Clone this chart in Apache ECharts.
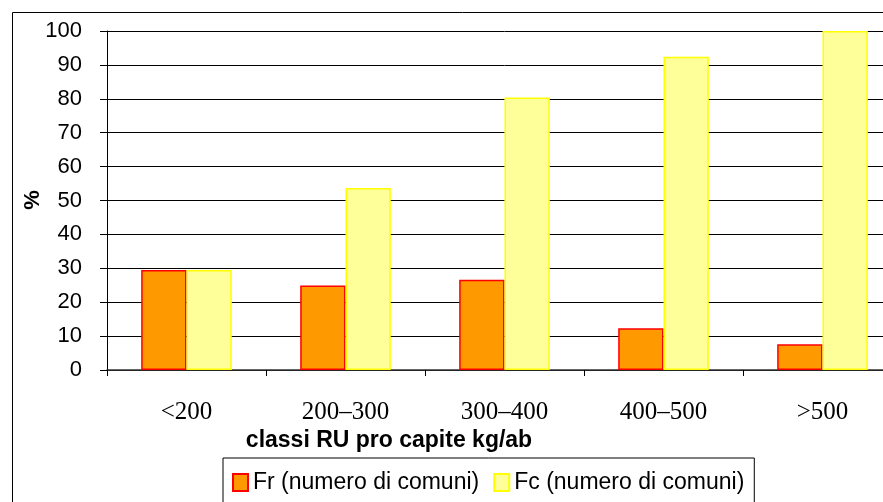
<!DOCTYPE html>
<html>
<head>
<meta charset="utf-8">
<script src="https://cdn.jsdelivr.net/npm/echarts@6/dist/echarts.min.js"></script>
<style>html,body{margin:0;padding:0;background:#fff;overflow:hidden;}#c{width:920px;height:502px;}</style>
</head>
<body>
<div id="c"></div>
<script>
const categories = ['<200', '200\u2013300', '300\u2013400', '400\u2013500', '>500'];
const frValues = [29.5, 24.9, 26.6, 12.3, 7.6];
const fcValues = [29.5, 53.7, 80.4, 92.4, 100];
const seriesNames = ['Fr (numero di comuni)', 'Fc (numero di comuni)'];
const yTicks = { min: 0, max: 100, interval: 10 };
const xAxisTitle = 'classi RU pro capite kg/ab';
const yAxisTitle = '%';

const chart = echarts.init(document.getElementById('c'), null, { renderer: 'canvas' });
chart.setOption({
  animation: false,
  backgroundColor: '#fff',
  graphic: [
    { type: 'rect', shape: { x: 12.5, y: 12.5, width: 900, height: 520 }, style: { fill: 'none', stroke: '#000', lineWidth: 1 }, z: 0 },
    { type: 'text', x: 33, y: 200, rotation: Math.PI / 2,
      style: { text: yAxisTitle, font: 'bold 22px "Liberation Sans", Arial, sans-serif', fill: '#000', textAlign: 'center', textVerticalAlign: 'middle' } },
    { type: 'text', x: 389, y: 441,
      style: { text: xAxisTitle, font: 'bold 23px "Liberation Sans", Arial, sans-serif', fill: '#000', textAlign: 'center', textVerticalAlign: 'middle' } }
  ],
  grid: { left: 107, top: 31, width: 795, height: 339, containLabel: false },
  legend: {
    data: seriesNames,
    left: 223, top: 458,
    orient: 'horizontal',
    icon: 'rect',
    itemWidth: 15, itemHeight: 17,
    itemGap: 14,
    padding: [13, 10, 30, 9],
    borderColor: '#000', borderWidth: 1,
    textStyle: { fontFamily: '"Liberation Sans", Arial, sans-serif', fontSize: 23, color: '#000', padding: [0, 0, 0, 0] },
    selectedMode: false
  },
  xAxis: {
    type: 'category',
    data: categories,
    axisLine: { lineStyle: { color: '#333', width: 1.5 } },
    axisTick: { show: true, length: 6, lineStyle: { color: '#000' } },
    axisLabel: { fontFamily: '"Liberation Serif", "Times New Roman", serif', fontSize: 25, color: '#000', margin: 30 }
  },
  yAxis: {
    type: 'value',
    min: yTicks.min, max: yTicks.max, interval: yTicks.interval,
    axisLine: { show: true, lineStyle: { color: '#000', width: 1 } },
    axisTick: { show: true, length: 7, lineStyle: { color: '#000' } },
    axisLabel: { fontFamily: '"Liberation Sans", Arial, sans-serif', fontSize: 22, color: '#000', margin: 25 },
    splitLine: { show: true, lineStyle: { color: '#000', width: 1 } }
  },
  series: [
    { name: seriesNames[0], type: 'bar', data: frValues, barGap: '0%', barCategoryGap: '43%',
      itemStyle: { color: '#FF9900', borderColor: '#FF0000', borderWidth: 1.5 } },
    { name: seriesNames[1], type: 'bar', data: fcValues, barGap: '0%', barCategoryGap: '43%',
      itemStyle: { color: '#FFFF99', borderColor: '#FFFF00', borderWidth: 1.5 } }
  ]
});
</script>
</body>
</html>
